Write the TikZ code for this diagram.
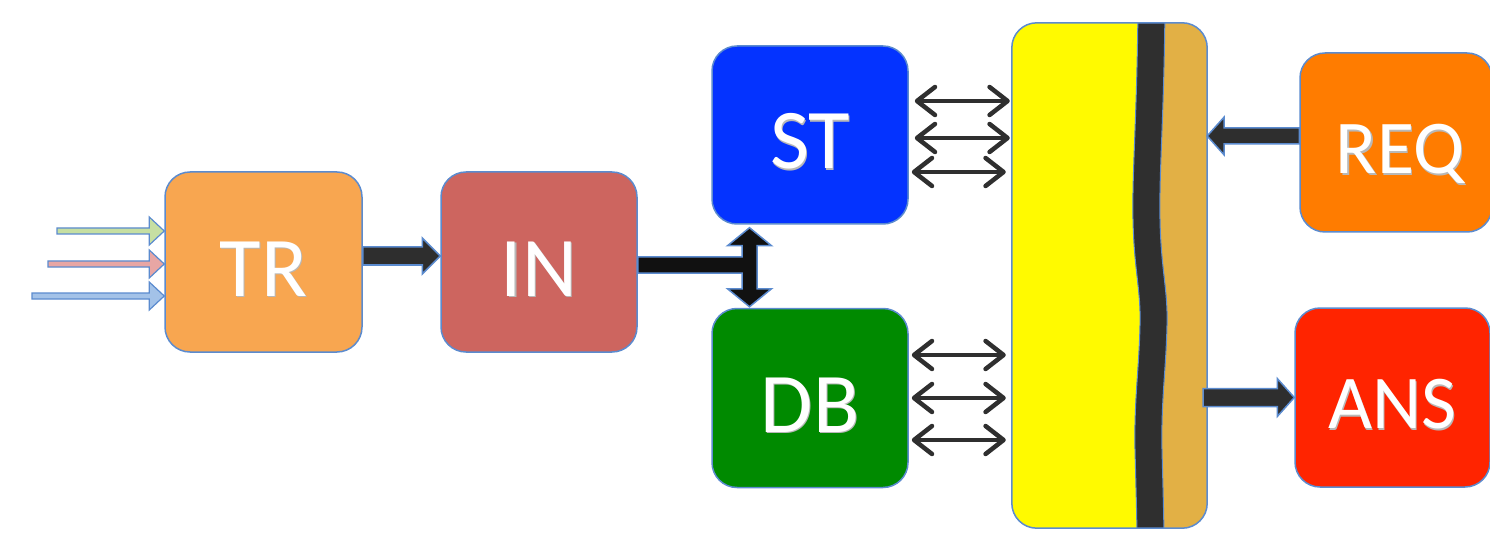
\documentclass[tikz,border=0pt]{standalone}
\usepackage{fontspec}
\setmainfont{Carlito}
\usetikzlibrary{arrows.meta,calc}

\definecolor{edgeblue}{HTML}{5B8BCF}
\definecolor{trc}{HTML}{F8A650}
\definecolor{inc}{HTML}{CD655F}
\definecolor{stc}{HTML}{0433FF}
\definecolor{dbc}{HTML}{008A00}
\definecolor{reqc}{HTML}{FF7C00}
\definecolor{ansc}{HTML}{FF2400}
\definecolor{yel}{HTML}{FFFA00}
\definecolor{tanc}{HTML}{E2B045}
\definecolor{band}{HTML}{2F2F2F}
\definecolor{arrowdark}{HTML}{2E2E2E}
\definecolor{juncdark}{HTML}{111111}
\definecolor{ingreen}{HTML}{C6DFA2}
\definecolor{inred}{HTML}{E8A6A4}
\definecolor{inblue}{HTML}{A3C2E8}

% white label with a soft drop shadow
\newcommand\shtext[1]{\leavevmode\rlap{\hspace{1.2pt}\raisebox{-1.8pt}{\textcolor{black!28}{#1}}}#1}

% horizontal block arrow: style, from, to, half shaft, half head, head length
\newcommand\blockarrow[6]{%
  \path[#1] let \p1=(#2), \p2=(#3), \n1={ifthenelse(\x2>\x1,1,-1)} in
    (\x1,\y1+#4) -- (\x2-\n1*#6,\y1+#4) -- (\x2-\n1*#6,\y1+#5) -- (\x2,\y1)
    -- (\x2-\n1*#6,\y1-#5) -- (\x2-\n1*#6,\y1-#4) -- (\x1,\y1-#4) -- cycle;}

\tikzset{
  box/.style={draw=edgeblue, line width=1.5pt, rounded corners=25pt, inner sep=0pt,
    text=white, font=\fontsize{85}{85}\selectfont, text height=68pt, text depth=0pt},
  smallbox/.style={box, font=\fontsize{76}{76}\selectfont, text height=62pt},
  dbl/.style={draw=band, line width=4.5pt, line cap=round,
    {Straight Barb[length=18pt,width=28pt,round]}-{Straight Barb[length=18pt,width=28pt,round]}},
  inarrow/.style={fill=#1, draw=edgeblue, line width=1.2pt, line join=miter},
  bigarrow/.style={fill=arrowdark, draw=edgeblue, line width=1.5pt},
  junc/.style={fill=juncdark, draw=edgeblue, line width=1.5pt},
  % wavy seam of the store, continued from (1138,5)
  seam/.style={insert path={.. controls (1137,120) and (1132,170) .. (1133,220)
    .. controls (1134,270) and (1141,290) .. (1140,325)
    .. controls (1139,370) and (1134,400) .. (1135,450)
    .. controls (1136,490) and (1137,520) .. (1137,545)}},
}

\begin{document}
\begin{tikzpicture}[x=1pt,y=-1pt]
\useasboundingbox[fill=white] (0,0) rectangle (1490,537);

% processing blocks
\node[box, fill=trc, minimum width=197pt, minimum height=180pt] (TR) at (263.5,262) {\shtext{TR}};
\node[box, fill=inc, minimum width=196pt, minimum height=180pt] (IN) at (539,262) {\shtext{IN}};
\node[box, fill=stc, minimum width=196pt, minimum height=178pt] (ST) at (810,135) {\shtext{ST}};
\node[box, fill=dbc, minimum width=196pt, minimum height=179pt] (DB) at (810,398) {\shtext{DB}};
\node[smallbox, fill=reqc, minimum width=192pt, minimum height=179pt] (REQ) at (1396,142.5) {\hspace*{8pt}\shtext{REQ}};
\node[smallbox, fill=ansc, minimum width=195pt, minimum height=179pt] (ANS) at (1392.5,397.5) {\shtext{ANS}};

% layered store: yellow body, dark wavy seam, tan rim
\node[minimum width=195pt, minimum height=505pt, inner sep=0pt] (big) at (1109.5,275.5) {};
\begin{scope}
  \clip[rounded corners=25pt] (big.north west) rectangle (big.south east);
  \fill[tanc] (big.north west) rectangle (big.south east);
  \fill[yel] (1000,5) -- (1138,5) [seam] -- (1000,545) -- cycle;
  \draw[band, line width=27pt] ([xshift=13.5pt]1138,5) [xshift=13.5pt] [seam];
  \draw[edgeblue, line width=1pt] (1138,5) [seam];
  \draw[edgeblue, line width=1pt, xshift=27pt] (1138,5) [seam];
\end{scope}
\draw[edgeblue, line width=1.5pt, rounded corners=25pt] (big.north west) rectangle (big.south east);

% incoming feeds
\coordinate (f1) at (57,231);
\coordinate (f2) at (48,264);
\coordinate (f3) at (32,296);
\blockarrow{inarrow=ingreen}{f1}{TR.west |- f1}{3pt}{14pt}{15pt}
\blockarrow{inarrow=inred}{f2}{TR.west |- f2}{3pt}{14pt}{15pt}
\blockarrow{inarrow=inblue}{f3}{TR.west |- f3}{3pt}{14pt}{15pt}

% TR to IN
\blockarrow{bigarrow}{[yshift=6pt]TR.east}{[yshift=6pt]IN.west}{9pt}{18pt}{18pt}

% IN feeding both ST and DB
\coordinate (jx) at (749.5,0);
\path[junc] let \p1=([yshift=-3pt]IN.east), \p2=([yshift=-3pt]jx |- ST.south), \p3=([yshift=1pt]jx |- DB.north) in
  (\x1,\y1+8pt) -- (\x2-7.5pt,\y1+8pt) -- (\x2-7.5pt,\y2-18pt) -- (\x2-22pt,\y2-18pt) -- (\x2,\y2)
  -- (\x2+22pt,\y2-18pt) -- (\x2+7.5pt,\y2-18pt) -- (\x2+7.5pt,\y3+18pt) -- (\x2+22pt,\y3+18pt)
  -- (\x2,\y3) -- (\x2-22pt,\y3+18pt) -- (\x2-7.5pt,\y3+18pt) -- (\x2-7.5pt,\y1-8pt) -- (\x1,\y1-8pt) -- cycle;

% ST and DB exchanging with the store
\draw[dbl] ([xshift=6pt,yshift=34pt]ST.east) -- ([xshift=-2pt,yshift=34pt]ST.east -| big.west);
\draw[dbl] ([xshift=6pt,yshift=-3pt]ST.east) -- ([xshift=-2pt,yshift=-3pt]ST.east -| big.west);
\draw[dbl] ([xshift=3pt,yshift=-37pt]ST.east) -- ([xshift=-6pt,yshift=-37pt]ST.east -| big.west);
\draw[dbl] ([xshift=3pt,yshift=43pt]DB.east) -- ([xshift=-6pt,yshift=43pt]DB.east -| big.west);
\draw[dbl] ([xshift=3pt,yshift=0pt]DB.east) -- ([xshift=-6pt,yshift=0pt]DB.east -| big.west);
\draw[dbl] ([xshift=3pt,yshift=-42pt]DB.east) -- ([xshift=-6pt,yshift=-42pt]DB.east -| big.west);

% request in, answer out
\blockarrow{bigarrow}{[yshift=6.5pt]REQ.west}{[yshift=6.5pt]REQ.west -| big.east}{8pt}{19pt}{17pt}
\blockarrow{bigarrow}{[xshift=-4pt]big.east |- ANS.west}{ANS.west}{9pt}{19pt}{17pt}
\end{tikzpicture}
\end{document}
